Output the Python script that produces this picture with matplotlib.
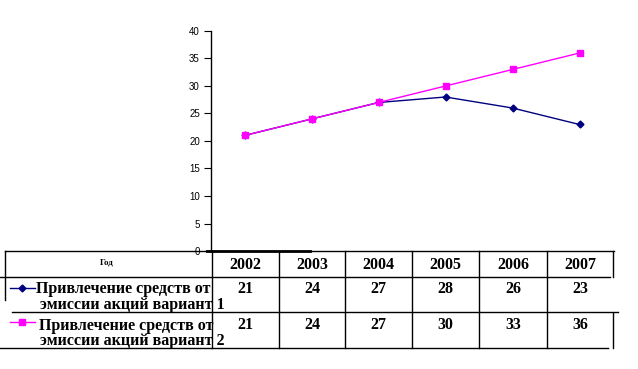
import matplotlib
matplotlib.use("Agg")
import matplotlib.pyplot as plt

# data
years = ["2002", "2003", "2004", "2005", "2006", "2007"]
variant1 = [21, 24, 27, 28, 26, 23]
variant2 = [21, 24, 27, 30, 33, 36]
label1 = ["Привлечение средств от", "эмиссии акций вариант 1"]
label2 = ["Привлечение средств от", "эмиссии акций вариант 2"]
header = "Год"
y_ticks = [0, 5, 10, 15, 20, 25, 30, 35, 40]

W, H = 638, 369
fig = plt.figure(figsize=(W / 100, H / 100), dpi=100)

# plot area, in pixels: x 211..613, y 31..251
ax = fig.add_axes([211 / W, (H - 251) / H, 402 / W, 220 / H])
xs = [i + 0.5 for i in range(len(years))]
ax.plot(xs, variant1, color="#000080", lw=1, marker="D", ms=3.5)
ax.plot(xs, variant2, color="#FF00FF", lw=1, marker="s", ms=4.5)
ax.set_xlim(0, len(years))
ax.set_ylim(0, 40)
ax.set_yticks(y_ticks)
ax.set_yticklabels([str(t) for t in y_ticks], fontsize=7, family="Liberation Sans")
ax.tick_params(axis="y", length=5, width=0.8, pad=3)
ax.set_xticks([])
for s in ["top", "right", "bottom"]:
    ax.spines[s].set_visible(False)
ax.spines["left"].set_linewidth(1)
ax.patch.set_alpha(0)

# table overlay in pixel coords
tb = fig.add_axes([0, 0, 1, 1], zorder=-1)
tb.set_xlim(0, W)
tb.set_ylim(H, 0)
tb.axis("off")

def hl(y, x0, x1, lw=1):
    tb.plot([x0, x1], [y, y], color="black", lw=lw)

def vl(x, y0, y1):
    tb.plot([x, x], [y0, y1], color="black", lw=1)

hl(251, 5, 614)
hl(251, 207, 310, lw=2)
hl(277, 0, 610)
hl(312, 12, 618)
hl(348, 0, 608)
vl(5, 251, 300)
cols = [212, 279, 345, 412, 479, 547, 613]
for c in cols[:-1]:
    vl(c, 251, 348)
vl(613, 251, 277)
vl(613, 313, 348)

serif = "Liberation Serif"
tb.text(107, 263, header, ha="center", va="center", fontsize=6.5, fontweight="bold", family=serif)
for i, yr in enumerate(years):
    cx = (cols[i] + cols[i + 1]) / 2
    tb.text(cx, 265, yr, ha="center", va="center", fontsize=11.5, fontweight="bold", family=serif)
    tb.text(cx, 289, str(variant1[i]), ha="center", va="center", fontsize=11.5, fontweight="bold", family=serif)
    tb.text(cx, 325, str(variant2[i]), ha="center", va="center", fontsize=11.5, fontweight="bold", family=serif)

# legend keys
tb.plot([10, 35], [288, 288], color="#000080", lw=1)
tb.plot([22], [288], color="#000080", marker="D", ms=3.5)
tb.plot([10, 35], [322, 322], color="#FF00FF", lw=1)
tb.plot([22], [322], color="#FF00FF", marker="s", ms=4.5)

tb.text(36, 289, label1[0], ha="left", va="center", fontsize=11.5, fontweight="bold", family=serif)
tb.text(40, 305, label1[1], ha="left", va="center", fontsize=11.5, fontweight="bold", family=serif)
tb.text(39, 326, label2[0], ha="left", va="center", fontsize=11.5, fontweight="bold", family=serif)
tb.text(40, 341, label2[1], ha="left", va="center", fontsize=11.5, fontweight="bold", family=serif)

fig.savefig("out.png", dpi=100)
